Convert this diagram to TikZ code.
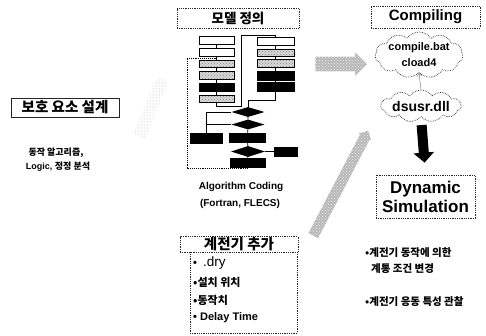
\documentclass[tikz,border=0pt]{standalone}
\usepackage{fontspec}
\setmainfont{Liberation Sans}
\newfontfamily\kr{Noto Sans CJK KR}
\usetikzlibrary{shapes.geometric,shapes.symbols,shapes.arrows,patterns,arrows.meta}
\tikzset{
  dotbox/.style={draw=black!85, densely dotted, line width=0.8pt, inner sep=0pt},
  fbox/.style={draw=black, line width=0.9pt, inner sep=0pt, minimum height=7.5pt},
  wbox/.style={fbox, fill=white},
  gbox/.style={fbox, preaction={fill=gray!30}, pattern=crosshatch dots, pattern color=gray},
  bbox/.style={fbox, fill=black},
  dia/.style={diamond, fill=black, inner sep=0pt, minimum width=33pt, minimum height=10pt},
  fl/.style={line width=0.9pt},
  cloudy/.style={cloud, cloud puffs=11, cloud puff arc=110, cloud ignores aspect, draw=black!80, densely dotted, line width=0.7pt, inner sep=0pt},
  hatch/.style={single arrow, inner xsep=0pt, preaction={fill=gray!55}, pattern=crosshatch dots, pattern color=gray!15, draw=gray!75, densely dotted, line width=0.4pt},
  txt/.style={font=\bfseries, inner sep=0pt},
}
\begin{document}
\begin{tikzpicture}[x=1pt,y=-1pt]
\useasboundingbox[fill=white] (0,0) rectangle (486,335);

% titles
\node[dotbox, minimum width=122pt, minimum height=20pt, font=\kr\bfseries\fontsize{13.5}{14}\selectfont] (mdl) at (238,18) {모델 정의};
\node[dotbox, minimum width=109pt, minimum height=22pt, font=\bfseries\fontsize{15}{16}\selectfont] (comp) at (425.5,17) {Compiling};
\node[draw=black!85, line width=1pt, inner sep=0pt, minimum width=108pt, minimum height=19pt, font=\kr\bfseries\fontsize{14.5}{15}\selectfont] (bohu) at (65,107.5) {보호 요소 설계};
\node[txt, font=\kr\bfseries\fontsize{9}{10}\selectfont] (d1) at (56,153) {동작 알고리즘,};
\node[txt, font=\bfseries\fontsize{9}{10}\selectfont] (d2) at (58,167) {Logic, {\kr 정정 분석}};

% flowchart left column
\node[wbox, minimum width=35pt] (b1) at (216.5,40.5) {};
\node[wbox, minimum width=35pt] (b2) at (216.5,52.5) {};
\node[gbox, minimum width=35pt] (b3) at (216.5,64) {};
\node[gbox, minimum width=35pt] (b4) at (216.5,75.5) {};
\node[bbox, minimum width=35pt] (b5) at (216.5,87.5) {};
\node[gbox, minimum width=35pt] (b6) at (216.5,99) {};
% right column
\node[wbox, minimum width=37pt] (r1) at (275.5,41.5) {};
\node[gbox, minimum width=37pt] (r2) at (275.5,53) {};
\node[gbox, minimum width=37pt] (r3) at (275.5,63.5) {};
\node[bbox, minimum width=37pt, minimum height=9pt] (r4) at (275.5,75.5) {};
\node[bbox, minimum width=37pt, minimum height=8.5pt] (r5) at (275.5,87) {};
% center
\node[dia] (D1) at (248,112) {};
\node[dia] (D2) at (248,124.5) {};
\node[bbox, minimum width=36pt, minimum height=9pt] (cb) at (247.5,137.5) {};
\node[bbox, minimum width=32pt, minimum height=10pt] (lb) at (206,138) {};
\node[dia, minimum width=34pt, minimum height=11pt] (D3) at (248,151.5) {};
\node[bbox, minimum width=23pt, minimum height=9pt] (rb) at (285.5,151.5) {};
\node[bbox, minimum width=35pt, minimum height=9pt] (bb) at (247.5,162.5) {};

\coordinate (j1) at (241,106);
\coordinate (j2) at (241,35);
\coordinate (j3) at (248,100);
\coordinate (l1) at (187,168);
\coordinate (l2) at (187,58);

\draw[fl] (b1) -- (b2) -- (b3) -- (b4) -- (b5) -- (b6);
\draw[fl] (b6.south) |- (j1) -- (j2) -| (r1.north);
\draw[fl] (r1) -- (r2) -- (r3) -- (r4) -- (r5);
\draw[fl] (r5.south) |- (j3) -- (D1.north);
\draw[fl] (D1) -- (D2) -- (cb) -- (D3) -- (bb);
\draw[fl] (D3.east) -- (rb.west);
\draw[fl] (D1.west) -| (lb.north);
\draw[fl] (D2.west) -- (lb.north |- D2.west);
\draw[fl, densely dotted] (bb.south) |- (l1) -- (l2) -- (b2.south |- l2);

\node[txt, font=\bfseries\fontsize{10}{11}\selectfont] (alg1) at (241,187) {Algorithm Coding};
\node[txt, font=\bfseries\fontsize{10}{11}\selectfont] (alg2) at (240,204) {(Fortran, FLECS)};

% relay box
\node[dotbox, minimum width=118pt, minimum height=16pt, font=\kr\bfseries\fontsize{14.5}{15}\selectfont] (relay) at (239,244.5) {계전기 추가};
\node[dotbox, minimum width=107pt, minimum height=81pt] (list) at (243.5,292.5) {};
\node[txt, anchor=west, font=\bfseries\fontsize{11}{12}\selectfont] (i1) at (193,263) {•\hspace{6pt}{\mdseries\fontsize{13.5}{14}\selectfont .dry}};
\node[txt, anchor=west, font=\kr\bfseries\fontsize{11}{12}\selectfont] (i2) at (193,282) {•설치 위치};
\node[txt, anchor=west, font=\kr\bfseries\fontsize{11}{12}\selectfont] (i3) at (193,300) {•동작치};
\node[txt, anchor=west, font=\bfseries\fontsize{11}{12}\selectfont] (i4) at (193,318) {• Delay Time};

% compiling side
\node[cloudy, minimum width=82pt, minimum height=46pt, align=center, font=\bfseries\fontsize{11}{16}\selectfont] (c1) at (419,55) {compile.bat\\cload4};
\node[cloudy, minimum width=74pt, minimum height=32pt, font=\bfseries\fontsize{14}{15}\selectfont] (c2) at (421,106) {dsusr.dll};
\draw[gray, line width=0.5pt, -{Straight Barb[length=3pt,width=5pt]}] (c2.north) -- (c1.south);
\node[dotbox, minimum width=99pt, minimum height=43pt, align=center, font=\bfseries\fontsize{17}{19}\selectfont] (dyn) at (425.5,196.5) {Dynamic\\Simulation};
\draw[line width=10pt, shorten <=8pt, shorten >=12pt, -{Triangle[width=20pt,length=10pt]}] (c2.south) -- (dyn.north);

% hatched arrows
\node[hatch, inner ysep=7pt, minimum height=51pt, single arrow head extend=4pt, single arrow head indent=0pt] (ha) at (337.5,64) {};
\node[hatch, inner ysep=5pt, minimum height=118pt, single arrow head extend=1.5pt, rotate=62.4] (hb) at (339.5,185.5) {};
\node[single arrow, inner xsep=0pt, inner ysep=6pt, pattern=dots, pattern color=gray!70, minimum height=64pt, single arrow head extend=1pt, rotate=68] (hc) at (150,110) {};

% right notes
\node[txt, anchor=west, font=\kr\bfseries\fontsize{10.5}{11}\selectfont] (n1) at (365,253) {•계전기 동작에 의한};
\node[txt, anchor=west, font=\kr\bfseries\fontsize{10.5}{11}\selectfont] (n2) at (371,269) {계통 조건 변경};
\node[txt, anchor=west, font=\kr\bfseries\fontsize{10.5}{11}\selectfont] (n3) at (365,302) {•계전기 응동 특성 관찰};
\end{tikzpicture}
\end{document}
